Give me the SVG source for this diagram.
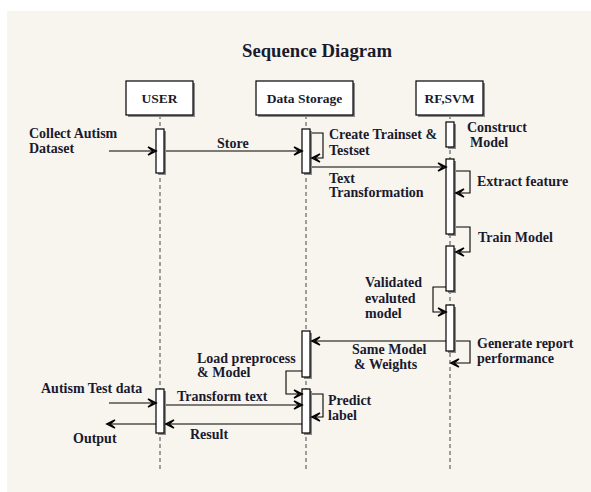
<svg xmlns="http://www.w3.org/2000/svg" width="591" height="492" viewBox="0 0 591 492">
<defs>
<style>
text{font-family:"Liberation Serif","DejaVu Serif",serif;font-weight:bold;fill:#1a1a2e;font-size:14px}
.title{font-size:18.7px}
.hd{font-size:13.5px}
.box{fill:#fff;stroke:#000;stroke-width:1.2}
.sh{fill:#8a8a8a}
.life{stroke:#555;stroke-width:1.1;stroke-dasharray:4,3;fill:none}
.msg{stroke:#000;stroke-width:1.1;fill:none;marker-end:url(#ah)}
</style>
<marker id="ah" markerUnits="userSpaceOnUse" markerWidth="12" markerHeight="10" viewBox="-9 -5 10 10" refX="0" refY="0" orient="auto">
<path d="M-8,-4 L0,0 L-8,4 M-3,0 L-8,-4 M-3,0 L-8,4" fill="none" stroke="#000" stroke-width="1.6"/>
</marker>
</defs>
<rect x="7" y="11" width="584" height="481" fill="#f8f5ef"/>
<text class="title" x="317" y="57" text-anchor="middle">Sequence Diagram</text>

<g id="lifelines">
<line class="life" x1="160" y1="115" x2="160" y2="470"/>
<line class="life" x1="306" y1="115" x2="306" y2="470"/>
<line class="life" x1="450" y1="115" x2="450" y2="470"/>
</g>

<g id="user">
<rect class="sh" x="128" y="83" width="67" height="34"/>
<rect class="box" x="126" y="81" width="67" height="34"/>
<text class="hd" x="159.5" y="102.5" text-anchor="middle">USER</text>
<rect class="sh" x="158" y="131" width="8" height="44"/>
<rect class="box" x="156" y="129" width="8" height="44"/>
<rect class="sh" x="158" y="391" width="8" height="44"/>
<rect class="box" x="156" y="389" width="8" height="44"/>
</g>

<g id="data-storage">
<rect class="sh" x="258" y="83" width="97" height="34"/>
<rect class="box" x="256" y="81" width="97" height="34"/>
<text class="hd" x="304.5" y="102.5" text-anchor="middle">Data Storage</text>
<rect class="sh" x="304" y="131" width="8" height="44"/>
<rect class="box" x="302" y="129" width="8" height="44"/>
<rect class="sh" x="304" y="333" width="8" height="46"/>
<rect class="box" x="302" y="331" width="8" height="46"/>
<rect class="sh" x="304" y="391" width="8" height="44"/>
<rect class="box" x="302" y="389" width="8" height="44"/>
</g>

<g id="rf-svm">
<rect class="sh" x="418" y="83" width="67" height="34"/>
<rect class="box" x="416" y="81" width="67" height="34"/>
<text class="hd" x="449.5" y="102.5" text-anchor="middle">RF,SVM</text>
<rect class="sh" x="448" y="124" width="8" height="25"/>
<rect class="box" x="446" y="122" width="8" height="25"/>
<rect class="sh" x="448" y="161" width="8" height="75"/>
<rect class="box" x="446" y="159" width="8" height="75"/>
<rect class="sh" x="448" y="248" width="8" height="45"/>
<rect class="box" x="446" y="246" width="8" height="45"/>
<rect class="sh" x="448" y="307" width="8" height="46"/>
<rect class="box" x="446" y="305" width="8" height="46"/>
</g>

<g id="connectors">
<line class="msg" x1="109" y1="151" x2="156" y2="151"/>
<line class="msg" x1="166" y1="151" x2="302" y2="151"/>
<path class="msg" d="M312,133 H323 V158 H312"/>
<line class="msg" x1="312" y1="167" x2="446" y2="167"/>
<path class="msg" d="M456,171 H470 V193 H456"/>
<path class="msg" d="M456,227 H470 V252 H456"/>
<path class="msg" d="M446,287 H433 V312 H446"/>
<line class="msg" x1="446" y1="341" x2="312" y2="341"/>
<path class="msg" d="M456,341 H470 V363 H451"/>
<path class="msg" d="M302,371 H286 V394 H302"/>
<line class="msg" x1="109" y1="403" x2="156" y2="403"/>
<line class="msg" x1="166" y1="405" x2="302" y2="405"/>
<path class="msg" d="M312,394 H323 V417 H312"/>
<line class="msg" x1="302" y1="424" x2="166" y2="424"/>
<line class="msg" x1="156" y1="424" x2="107" y2="424"/>
</g>

<g id="labels">
<text x="29" y="138">Collect Autism</text>
<text x="29" y="153">Dataset</text>
<text x="217" y="148">Store</text>
<text x="329" y="139">Create Trainset &amp;</text>
<text x="329" y="155">Testset</text>
<text x="467" y="132">Construct</text>
<text x="470" y="147">Model</text>
<text x="329" y="183">Text</text>
<text x="329" y="197">Transformation</text>
<text x="477" y="186">Extract feature</text>
<text x="478" y="242">Train Model</text>
<text x="365" y="287">Validated</text>
<text x="365" y="303">evaluted</text>
<text x="365" y="318">model</text>
<text x="352" y="354">Same Model</text>
<text x="354" y="369">&amp; Weights</text>
<text x="477" y="348">Generate report</text>
<text x="477" y="363">performance</text>
<text x="197" y="363">Load preprocess</text>
<text x="197" y="377">&amp; Model</text>
<text x="41" y="393">Autism Test data</text>
<text x="177" y="401">Transform text</text>
<text x="328" y="405">Predict</text>
<text x="328" y="420">label</text>
<text x="190" y="439">Result</text>
<text x="73" y="443">Output</text>
</g>
</svg>
